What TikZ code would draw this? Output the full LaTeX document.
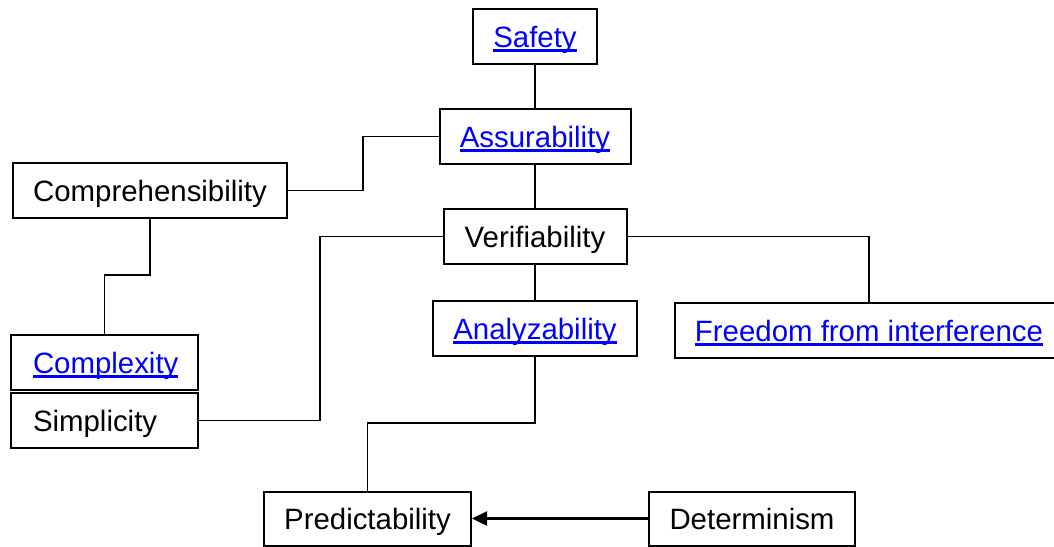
\documentclass[tikz,border=0pt]{standalone}
\usepackage{fontspec}
\setmainfont{Liberation Sans}
\usetikzlibrary{arrows.meta}
\definecolor{linkblue}{RGB}{0,0,255}
\newcommand\lab{\fontsize{29.4pt}{34pt}\selectfont}
\newsavebox\lnkbox
% hyperlink-style text: blue with a thick underline through the descenders
\newcommand\lnk[1]{{\color{linkblue}\sbox\lnkbox{#1}\rlap{\rule[-0.155em]{\wd\lnkbox}{0.08em}}\usebox\lnkbox}}
\begin{document}
\begin{tikzpicture}[x=1pt,y=-1pt,
  box/.style={draw, line width=2pt, minimum height=55pt, inner sep=0pt,
    font=\lab, text height=21pt, text depth=0pt},
  wire/.style={line width=1.6pt}]
\clip (0,0) rectangle (1054,546);
\fill[white] (0,0) rectangle (1054,546);

\node[box, minimum width=124pt] (safety) at (535,36.5) {\lnk{Safety}};
\node[box, minimum width=191pt] (assur) at (535,136.5) {\lnk{Assurability}};
\node[box, minimum width=274pt] (comp) at (150,190.5) {Comprehensibility};
\node[box, minimum width=183pt] (verif) at (535,236.5) {Verifiability};
\node[box, minimum width=204pt] (anal) at (535,328.5) {\lnk{Analyzability}};
\node[box, minimum width=388pt] (free) at (869,330.5) {\lnk{Freedom from interference}};
\node[box, minimum width=187pt, text width=143pt, align=left] (cplx) at (104.5,362.5) {\lnk{Complexity}};
\node[box, minimum width=187pt, text width=143pt, align=left] (simp) at (104.5,420.5) {Simplicity};
\node[box, minimum width=207pt, minimum height=54pt] (pred) at (367.5,518.5) {Predictability};
\node[box, minimum width=206pt, minimum height=54pt] (det) at (752,518.5) {Determinism};

\draw[wire] (safety) -- (assur);
\draw[wire] (assur) -- (verif);
\draw[wire] (verif) -- (anal);
\draw[wire] (assur.west) -- (363,136.5) |- (comp.east);
\draw[wire] (comp.south) -- (150,275) -| (cplx.north);
\draw[wire] (verif.west) -- (320,236.5) |- (simp.east);
\draw[wire] (verif.east) -| (free.north);
\draw[wire] (anal.south) -- (535,423) -| (pred.north);
\draw[wire, line width=2.4pt, -{Triangle[length=15pt, width=14pt]}] (det.west) -- (pred.east);
\end{tikzpicture}
\end{document}
